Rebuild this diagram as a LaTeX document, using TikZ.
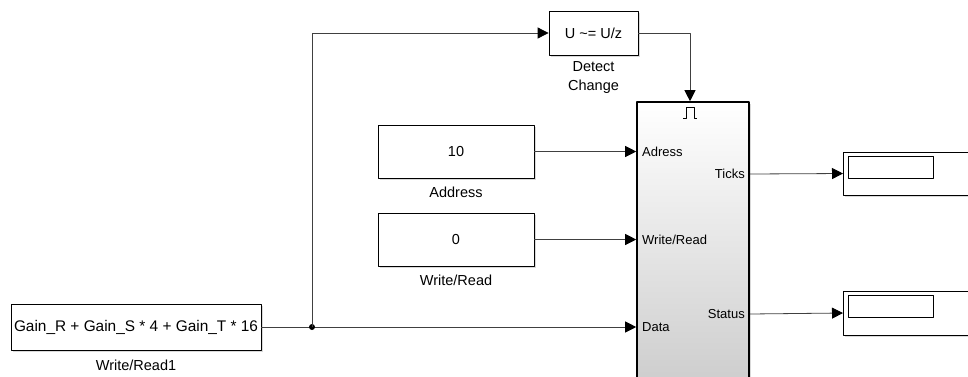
\documentclass[tikz,border=0pt]{standalone}
\usepackage{fontspec}
\setmainfont{Liberation Sans}
\usetikzlibrary{arrows.meta,positioning,shadows}
\begin{document}
\begin{tikzpicture}[x=1pt, y=-1pt, line join=round, font=\fontsize{14.5}{17}\selectfont,
		blk/.style={draw, fill=white, line width=0.8pt, inner sep=0pt, drop shadow={shadow xshift=1.5pt, shadow yshift=-1.5pt, opacity=0.3}},
		sig/.style={draw=black!75, line width=0.8pt, -{Triangle[length=11pt,width=11pt,color=black]}},
		port/.style={font=\fontsize{13}{15}\selectfont, inner sep=0pt}]
	\useasboundingbox (0,0) rectangle (968,376);
	%\tikzset{label style/.style={font=\footnotesize}}
	\node[blk, minimum width=250, minimum height=46, font=\fontsize{15.4}{18}\selectfont] (gain) at (136,327) {Gain\_R + Gain\_S * 4 + Gain\_T * 16};
	\node[below=6pt of gain] (gainlbl) {Write/Read1};
	\node[blk, minimum width=156, minimum height=53] (adr) at (456,151.5) {10};
	\node[below=5pt of adr] (adrlbl) {Address};
	\node[blk, minimum width=156, minimum height=53] (wr) at (456,239.5) {0};
	\node[below=5pt of wr] (wrlbl) {Write/Read};
	\node[blk, minimum width=89, minimum height=44] (det) at (593.5,33) {U \textasciitilde= U/z};
	\node[below=3pt of det, align=center, font=\fontsize{14.5}{19}\selectfont] (detlbl) {Detect\\Change};
	\node[draw, line width=1.6pt, minimum width=112, minimum height=318, top color=white, bottom color=black!22,
		drop shadow={shadow xshift=1.5pt, shadow yshift=-1.5pt, opacity=0.3}] (sub) at (693,261) {};
	\draw[line width=0.8pt] (683,118)--(686,118)--(686,107)--(694,107)--(694,118)--(697,118);
	\node[port, anchor=west] (padr) at (642,152) {Adress};
	\node[port, anchor=west] (pwr) at (642,240) {Write/Read};
	\node[port, anchor=west] (pdat) at (642,327) {Data};
	\node[port, anchor=east] (ptck) at (745,174) {Ticks};
	\node[port, anchor=east] (psts) at (745,314) {Status};
	\node[blk, minimum width=200, minimum height=43, anchor=west] (dtck) at (843,173.5) {};
	\draw[line width=0.7pt] (848,156) rectangle (933,178);
	\node[blk, minimum width=200, minimum height=44, anchor=west] (dsts) at (843,313) {};
	\draw[line width=0.7pt] (848,295) rectangle (933,317);
	% signals
	\coordinate (jn) at (312,327);
	\draw[sig] (gain.east) -- (gain.east -| sub.west);
	\fill[black] (jn) circle (3);
	\draw[sig] (jn) |- (det.west);
	\draw[sig] (det.east) -| ([xshift=-3pt]sub.north);
	\draw[sig] (adr.east) -- (adr.east -| sub.west);
	\draw[sig] (wr.east) -- (wr.east -| sub.west);
	\draw[sig] (sub.east |- ptck) -- (dtck.west);
	\draw[sig] (sub.east |- psts) -- (dsts.west);
\end{tikzpicture}
\end{document}
